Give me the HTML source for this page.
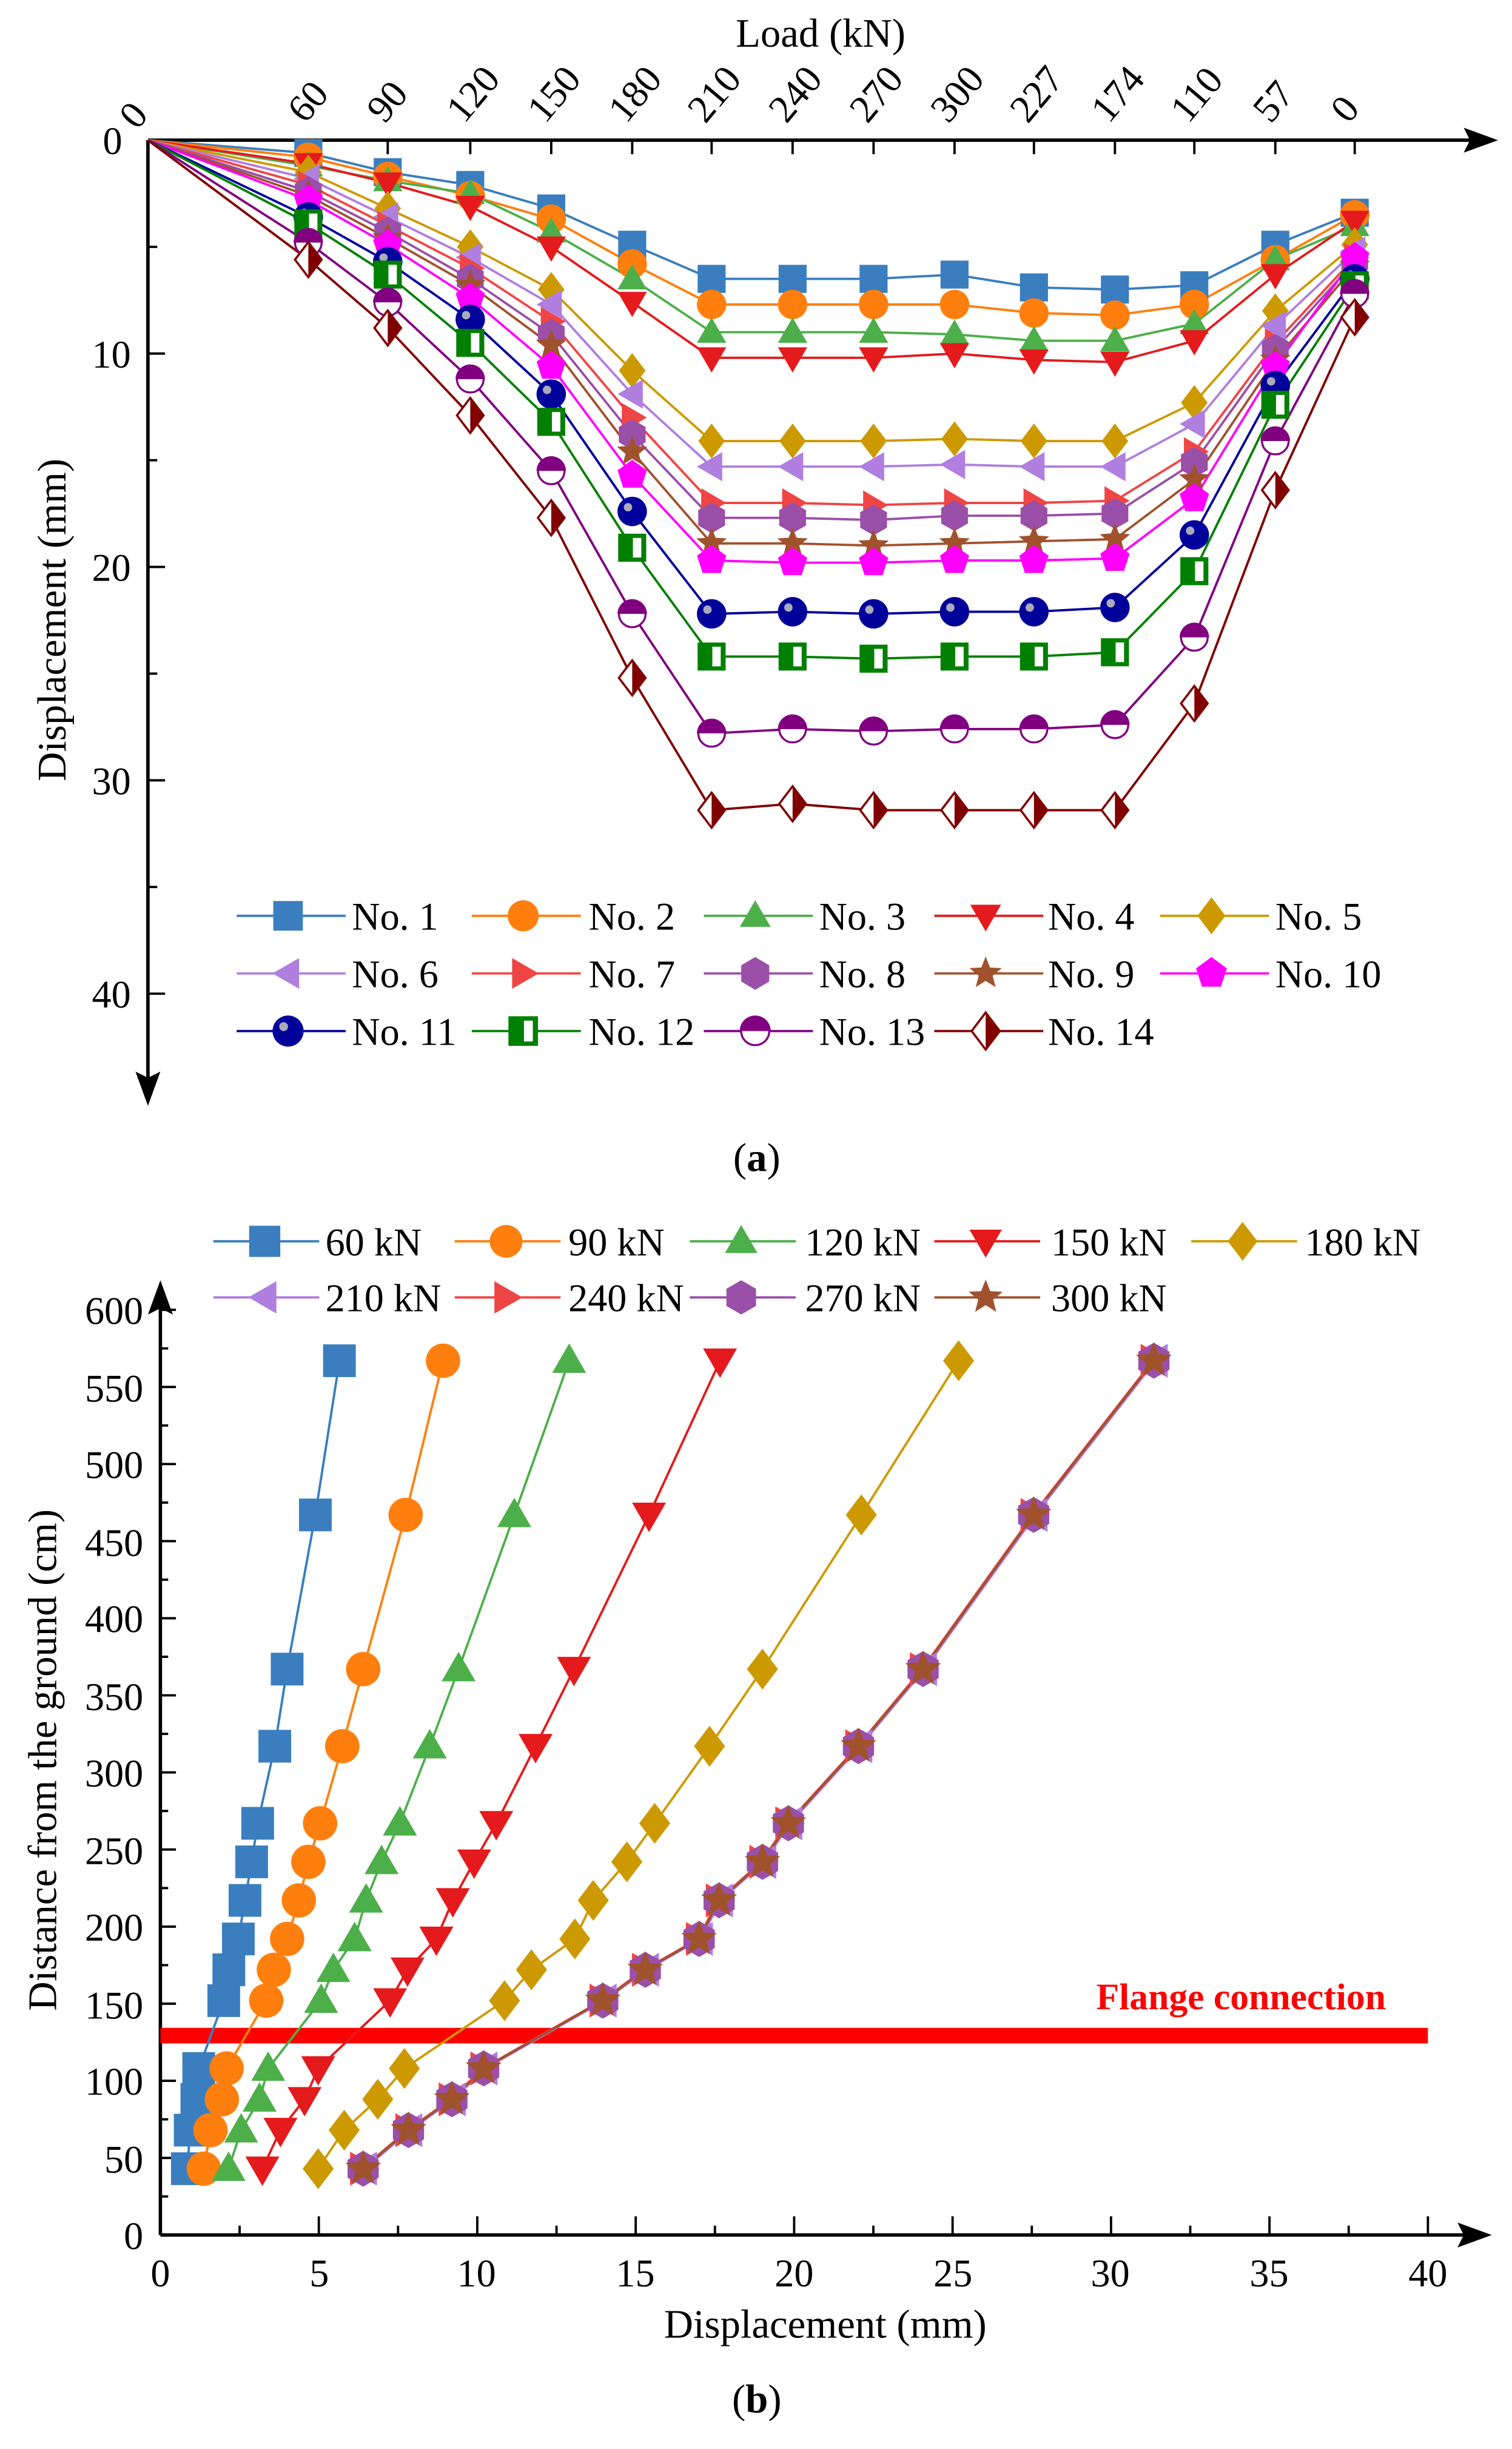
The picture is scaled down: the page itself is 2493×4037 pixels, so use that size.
<!DOCTYPE html>
<html><head><meta charset="utf-8"><style>
html,body{margin:0;padding:0;background:#fff;}
svg{display:block;}
text{font-family:"Liberation Serif",serif;fill:#000;}
</style></head><body>
<svg id="s" width="2493" height="4037" viewBox="0 0 971 1572.4" preserveAspectRatio="none" xmlns="http://www.w3.org/2000/svg">
<rect width="971" height="1573" fill="#fff"/>
<g stroke="#000" stroke-width="2.2" fill="none">
<line x1="95" y1="90" x2="950" y2="90"/>
<line x1="95" y1="90" x2="95" y2="695"/>
</g>
<polygon points="962,90 940,82 944,90 940,98" fill="#000"/>
<polygon points="95,710 87,688 95,692 103,688" fill="#000"/>
<g id="ta" stroke="#000" stroke-width="1.5"></g>
<text x="527" y="30" font-size="26" text-anchor="middle">Load (kN)</text>
<g font-size="25">
<text x="66" y="99">0</text>
<text transform="translate(88,84) rotate(-50)">0</text>
<text transform="translate(196,80) rotate(-50)">60</text>
<text transform="translate(247,80) rotate(-50)">90</text>
<text transform="translate(298,80) rotate(-50)">120</text>
<text transform="translate(350,80) rotate(-50)">150</text>
<text transform="translate(402,80) rotate(-50)">180</text>
<text transform="translate(453,80) rotate(-50)">210</text>
<text transform="translate(505,80) rotate(-50)">240</text>
<text transform="translate(557,80) rotate(-50)">270</text>
<text transform="translate(609,80) rotate(-50)">300</text>
<text transform="translate(660,80) rotate(-50)">227</text>
<text transform="translate(712,80) rotate(-50)">174</text>
<text transform="translate(763,80) rotate(-50)">110</text>
<text transform="translate(816,80) rotate(-50)">57</text>
<text transform="translate(866,80) rotate(-50)">0</text>
<text x="84" y="236" text-anchor="end">10</text>
<text x="84" y="373" text-anchor="end">20</text>
<text x="84" y="510" text-anchor="end">30</text>
<text x="84" y="647" text-anchor="end">40</text>
</g>
<text transform="translate(42,398) rotate(-90)" font-size="26" text-anchor="middle">Displacement (mm)</text>
<g id="ga"></g>
<g font-size="25">
<text x="226" y="597">No. 1</text><text x="378" y="597">No. 2</text><text x="526" y="597">No. 3</text><text x="673" y="597">No. 4</text><text x="819" y="597">No. 5</text>
<text x="226" y="634">No. 6</text><text x="378" y="634">No. 7</text><text x="526" y="634">No. 8</text><text x="673" y="634">No. 9</text><text x="819" y="634">No. 10</text>
<text x="226" y="671">No. 11</text><text x="378" y="671">No. 12</text><text x="526" y="671">No. 13</text><text x="673" y="671">No. 14</text>
</g>
<text x="486" y="752" font-size="26" text-anchor="middle">(<tspan font-weight="bold">a</tspan>)</text>

<g stroke="#000" stroke-width="2.2" fill="none">
<line x1="103" y1="1435" x2="945" y2="1435"/>
<line x1="103" y1="1435" x2="103" y2="840"/>
</g>
<polygon points="958,1435 936,1427 940,1435 936,1443" fill="#000"/>
<polygon points="103,822 95,844 103,840 111,844" fill="#000"/>
<g id="tb" stroke="#000" stroke-width="1.5"></g>
<g font-size="25">
<text x="103" y="1468" text-anchor="middle">0</text><text x="205" y="1468" text-anchor="middle">5</text><text x="306" y="1468" text-anchor="middle">10</text><text x="408" y="1468" text-anchor="middle">15</text><text x="510" y="1468" text-anchor="middle">20</text><text x="612" y="1468" text-anchor="middle">25</text><text x="713" y="1468" text-anchor="middle">30</text><text x="815" y="1468" text-anchor="middle">35</text><text x="917" y="1468" text-anchor="middle">40</text>
<text x="92" y="1444" text-anchor="end">0</text><text x="92" y="1395" text-anchor="end">50</text><text x="92" y="1345" text-anchor="end">100</text><text x="92" y="1296" text-anchor="end">150</text><text x="92" y="1246" text-anchor="end">200</text><text x="92" y="1197" text-anchor="end">250</text><text x="92" y="1147" text-anchor="end">300</text><text x="92" y="1098" text-anchor="end">350</text><text x="92" y="1048" text-anchor="end">400</text><text x="92" y="999" text-anchor="end">450</text><text x="92" y="949" text-anchor="end">500</text><text x="92" y="900" text-anchor="end">550</text><text x="92" y="850" text-anchor="end">600</text>
</g>
<text x="530" y="1501" font-size="26" text-anchor="middle">Displacement (mm)</text>
<text transform="translate(36,1130) rotate(-90)" font-size="26" text-anchor="middle">Distance from the ground (cm)</text>
<rect x="103" y="1302" width="814" height="10" fill="#ff0000"/>
<text x="797" y="1290" font-size="24" font-weight="bold" text-anchor="middle" style="fill:#ff0000">Flange connection</text>
<g id="gb"></g>
<g font-size="25">
<text x="209" y="806">60 kN</text><text x="365" y="806">90 kN</text><text x="517" y="806">120 kN</text><text x="675" y="806">150 kN</text><text x="838" y="806">180 kN</text>
<text x="209" y="842">210 kN</text><text x="365" y="842">240 kN</text><text x="517" y="842">270 kN</text><text x="675" y="842">300 kN</text>
</g>
<text x="486" y="1549" font-size="26" text-anchor="middle">(<tspan font-weight="bold">b</tspan>)</text>
</svg>
<script>
const NS="http://www.w3.org/2000/svg";
function el(p,t,a){const e=document.createElementNS(NS,t);for(const k in a)e.setAttribute(k,a[k]);p.appendChild(e);return e;}
function star(cx,cy,R,r,n,rot){let p=[];for(let i=0;i<2*n;i++){const a=rot+Math.PI*i/n;const rr=i%2?r:R;p.push((cx+rr*Math.sin(a)).toFixed(1)+","+(cy-rr*Math.cos(a)).toFixed(1));}return p.join(" ");}
function poly(cx,cy,R,n,rot){let p=[];for(let i=0;i<n;i++){const a=rot+2*Math.PI*i/n;p.push((cx+R*Math.sin(a)).toFixed(1)+","+(cy-R*Math.cos(a)).toFixed(1));}return p.join(" ");}
function marker(g,type,x,y,s,c){
 const h=s/2;
 switch(type){
 case 0: el(g,"rect",{x:x-h,y:y-h,width:s,height:s,fill:c});break;
 case 1: el(g,"circle",{cx:x,cy:y,r:h*1.05,fill:c});break;
 case 2: el(g,"polygon",{points:poly(x,y+h*0.15,h*1.2,3,0),fill:c});break;
 case 3: el(g,"polygon",{points:poly(x,y-h*0.15,h*1.2,3,Math.PI),fill:c});break;
 case 4: el(g,"polygon",{points:`${x},${y-h*1.25} ${x+h*0.95},${y} ${x},${y+h*1.25} ${x-h*0.95},${y}`,fill:c});break;
 case 5: el(g,"polygon",{points:poly(x+h*0.15,y,h*1.2,3,-Math.PI/2),fill:c});break;
 case 6: el(g,"polygon",{points:poly(x-h*0.15,y,h*1.2,3,Math.PI/2),fill:c});break;
 case 7: el(g,"polygon",{points:poly(x,y,h*1.1,6,0),fill:c});break;
 case 8: el(g,"polygon",{points:star(x,y,h*1.15,h*0.5,5,0),fill:c});break;
 case 9: el(g,"polygon",{points:poly(x,y,h*1.1,5,0),fill:c});break;
 case 10: el(g,"circle",{cx:x,cy:y,r:h*1.05,fill:c});el(g,"circle",{cx:x-h*0.3,cy:y-h*0.3,r:h*0.3,fill:"#aab"});break;
 case 11: el(g,"rect",{x:x-h,y:y-h,width:s,height:s,fill:c});el(g,"rect",{x:x+h*0.05,y:y-h*0.7,width:h*0.6,height:h*1.4,fill:"#fff"});break;
 case 12: el(g,"circle",{cx:x,cy:y,r:h*0.95,fill:"#fff",stroke:c,"stroke-width":1.3});el(g,"path",{d:`M${x-h*1.05},${y} A${h*1.05},${h*1.05} 0 0 1 ${x+h*1.05},${y} Z`,fill:c});break;
 case 13: el(g,"polygon",{points:`${x},${y-h*1.25} ${x+h*0.95},${y} ${x},${y+h*1.25} ${x-h*0.95},${y}`,fill:"#fff",stroke:c,"stroke-width":1.4});el(g,"polygon",{points:`${x},${y-h*1.25} ${x+h*0.95},${y} ${x},${y+h*1.25}`,fill:c});break;
 }
}
const ta=document.getElementById("ta");
const X=[95,198,249,302,354,406,457,509,561,613,664,716,767,819,870];
X.forEach(x=>el(ta,"line",{x1:x,y1:90,x2:x,y2:99}));
for(let v=5;v<=40;v+=5){const y=90+v*13.7;el(ta,"line",{x1:95,y1:y,x2:v%10?101:106,y2:y});}
const colA=["#3a7ebf","#ff7f0e","#4daf4a","#e41a1c","#cc9a00","#b07fe0","#f04545","#9a4fa8","#a0522d","#ff00ff","#00009a","#008000","#800080","#800000"];
const D=[
[0.6,1.5,2.1,3.2,4.9,6.5,6.5,6.5,6.3,6.9,7.0,6.8,4.9,3.4],
[0.8,1.7,2.6,3.7,5.8,7.7,7.7,7.7,7.7,8.1,8.2,7.7,5.6,3.5],
[1.2,1.9,2.5,4.3,6.5,9.0,9.0,9.0,9.1,9.4,9.4,8.6,5.6,4.0],
[1.1,2.0,3.1,5.0,7.6,10.2,10.2,10.2,10.0,10.3,10.4,9.4,6.3,3.8],
[1.5,3.2,5.0,7.0,10.8,14.1,14.1,14.1,14.0,14.1,14.1,12.3,8.0,4.9],
[1.8,3.6,5.5,7.7,11.9,15.3,15.3,15.3,15.2,15.3,15.3,13.3,8.7,5.2],
[2.1,4.0,6.0,8.5,13.0,17.0,17.0,17.1,17.0,17.0,16.9,14.6,9.5,5.5],
[2.4,4.3,6.5,9.1,13.8,17.7,17.7,17.8,17.6,17.6,17.5,15.1,9.8,5.7],
[2.6,4.6,6.8,9.6,14.6,18.9,18.9,19.0,18.9,18.8,18.7,15.9,10.3,5.9],
[2.8,4.9,7.4,10.6,15.7,19.7,19.8,19.8,19.7,19.7,19.6,16.8,10.6,5.5],
[3.6,5.7,8.4,11.9,17.4,22.2,22.1,22.2,22.1,22.1,21.9,18.5,11.5,6.5],
[3.9,6.3,9.5,13.2,19.1,24.2,24.2,24.3,24.2,24.2,24.0,20.2,12.4,6.8],
[4.8,7.6,11.2,15.5,22.2,27.8,27.6,27.7,27.6,27.6,27.4,23.3,14.1,7.2],
[5.6,8.8,12.9,17.7,25.2,31.4,31.1,31.4,31.4,31.4,31.4,26.4,16.4,8.3]];
const ga=document.getElementById("ga");
D.forEach((d,i)=>{
 const pts=[[95,90]].concat(d.map((v,j)=>[X[j+1],90+v*13.7]));
 el(ga,"polyline",{points:pts.map(p=>p.join(",")).join(" "),fill:"none",stroke:colA[i],"stroke-width":1.5});
});
D.forEach((d,i)=>{d.forEach((v,j)=>marker(ga,i,X[j+1],90+v*13.7,18,colA[i]));});
const LX=[152,303,452,600,745],LY=[588,625,662];
for(let i=0;i<14;i++){const c=i%5,r=Math.floor(i/5);const x0=LX[c],y=LY[r];
 el(ga,"line",{x1:x0,y1:y,x2:x0+70,y2:y,stroke:colA[i],"stroke-width":1.5});
 marker(ga,i,x0+33,y,19,colA[i]);}
const tb=document.getElementById("tb");
for(let v=0;v<=40;v+=2.5){const x=103+v*20.35;el(tb,"line",{x1:x,y1:1435,x2:x,y2:v%5?1429:1423});}
for(let v=0;v<=600;v+=25){const y=1435-v*0.99;el(tb,"line",{x1:103,y1:y,x2:v%50?108:113,y2:y});}
const H=[43,68,88,108,152,172,192,217,242,267,317,367,467,567];
const B=[
[0.85,0.94,1.15,1.21,2.0,2.16,2.46,2.67,2.88,3.07,3.61,4.0,4.89,5.65],
[1.37,1.58,1.94,2.09,3.34,3.58,4.0,4.37,4.67,5.04,5.74,6.4,7.74,8.92],
[2.15,2.55,3.13,3.4,5.07,5.46,6.13,6.49,6.98,7.56,8.5,9.41,11.17,12.9],
[3.22,3.79,4.55,4.98,7.25,7.8,8.71,9.23,9.9,10.6,11.84,13.05,15.42,17.66],
[4.98,5.8,6.86,7.7,10.86,11.71,13.08,13.66,14.72,15.6,17.33,19.0,22.12,25.19]];
const W=[6.4,7.83,9.2,10.2,13.96,15.3,17.0,17.63,19.0,19.82,22.03,24.07,27.56,31.35];
const colB=["#3a7ebf","#ff7f0e","#4daf4a","#e41a1c","#cc9a00","#b07fe0","#f04545","#9a4fa8","#a0522d"];
const gb=document.getElementById("gb");
const series=B.concat([W.map(v=>v+0.05),W.map(v=>v-0.03),W,W]);
series.forEach((d,i)=>{
 el(gb,"polyline",{points:d.map((v,j)=>(103+v*20.35).toFixed(1)+","+(1435-H[j]*0.99).toFixed(1)).join(" "),fill:"none",stroke:colB[i],"stroke-width":1.5});
});
series.forEach((d,i)=>{d.forEach((v,j)=>marker(gb,i,103+v*20.35,1435-H[j]*0.99,21,colB[i]));});
const BX=[137,292,443,600,765],BY=[797,833];
for(let i=0;i<9;i++){const c=i%5,r=Math.floor(i/5);const x0=BX[c],y=BY[r];
 el(gb,"line",{x1:x0,y1:y,x2:x0+68,y2:y,stroke:colB[i],"stroke-width":1.5});
 marker(gb,i,x0+33,y,20,colB[i]);}
</script>
</body></html>
